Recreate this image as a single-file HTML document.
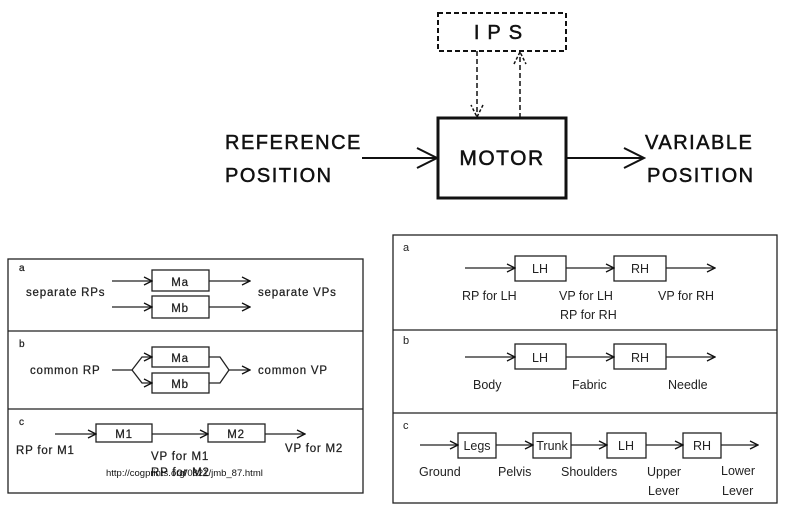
<!DOCTYPE html>
<html><head><meta charset="utf-8"><style>
body{margin:0;background:#fff;}
svg{display:block;font-family:"Liberation Sans",sans-serif;}
</style></head><body>
<svg width="788" height="516" viewBox="0 0 788 516" xmlns="http://www.w3.org/2000/svg">
<defs>
<marker id="a" markerWidth="10" markerHeight="10" refX="9" refY="5" orient="auto" markerUnits="userSpaceOnUse"><path d="M1,1 L9,5 L1,9" fill="none" stroke="#111" stroke-width="1.3"/></marker>
<marker id="b" markerWidth="24" markerHeight="24" refX="22" refY="12" orient="auto" markerUnits="userSpaceOnUse"><path d="M2,2 L22,12 L2,22" fill="none" stroke="#111" stroke-width="2"/></marker>
<marker id="c" markerWidth="16" markerHeight="16" refX="14" refY="8" orient="auto" markerUnits="userSpaceOnUse"><path d="M2,2 L14,8 L2,14" fill="none" stroke="#111" stroke-width="1.5" stroke-dasharray="3,2"/></marker>
</defs>
<g stroke="#111" fill="none">
<rect x="438" y="13" width="128" height="38" stroke-width="2" stroke-dasharray="5,3"/>
<rect x="438" y="118" width="128" height="80" stroke-width="3"/>
<line x1="477" y1="51" x2="477" y2="117" stroke-width="1.5" stroke-dasharray="5,3" marker-end="url(#c)"/>
<line x1="520" y1="118" x2="520" y2="52" stroke-width="1.5" stroke-dasharray="5,3" marker-end="url(#c)"/>
<line x1="362" y1="158" x2="437" y2="158" stroke-width="2" marker-end="url(#b)"/>
<line x1="567" y1="158" x2="644" y2="158" stroke-width="2" marker-end="url(#b)"/>
</g>
<g font-size="20" fill="#111" stroke="#111" stroke-width="0.5" letter-spacing="1.5">
<text x="502" y="39" text-anchor="middle" letter-spacing="8">IPS</text>
<text x="502" y="165" text-anchor="middle" font-size="21">MOTOR</text>
<text x="225" y="149">REFERENCE</text>
<text x="225" y="182">POSITION</text>
<text x="645" y="149">VARIABLE</text>
<text x="647" y="182">POSITION</text>
</g>

<!-- left panel -->
<g stroke="#222" fill="none" stroke-width="1.3">
<rect x="8" y="259" width="355" height="234"/>
<line x1="8" y1="331" x2="363" y2="331"/>
<line x1="8" y1="409" x2="363" y2="409"/>
<rect x="152" y="270" width="57" height="21"/>
<rect x="152" y="296" width="57" height="22"/>
<line x1="112" y1="281" x2="152" y2="281" marker-end="url(#a)"/>
<line x1="112" y1="307" x2="152" y2="307" marker-end="url(#a)"/>
<line x1="209" y1="281" x2="250" y2="281" marker-end="url(#a)"/>
<line x1="209" y1="307" x2="250" y2="307" marker-end="url(#a)"/>
<rect x="152" y="347" width="57" height="20"/>
<rect x="152" y="373" width="57" height="20"/>
<polyline points="112,370 132,370 142,357 152,357" marker-end="url(#a)"/>
<polyline points="132,370 142,383 152,383" marker-end="url(#a)"/>
<polyline points="209,357 220,357 229,370 250,370" marker-end="url(#a)"/>
<polyline points="209,383 220,383 229,370"/>
<rect x="96" y="424" width="56" height="18"/>
<rect x="208" y="424" width="57" height="18"/>
<line x1="55" y1="434" x2="96" y2="434" marker-end="url(#a)"/>
<line x1="152" y1="434" x2="208" y2="434" marker-end="url(#a)"/>
<line x1="265" y1="434" x2="305" y2="434" marker-end="url(#a)"/>
</g>
<g font-size="11.5" fill="#222" stroke="#222" stroke-width="0.25" letter-spacing="0.8">
<text x="19" y="271" font-size="10">a</text>
<text x="19" y="347" font-size="10">b</text>
<text x="19" y="425" font-size="10">c</text>
<text x="180" y="286" text-anchor="middle">Ma</text>
<text x="180" y="312" text-anchor="middle">Mb</text>
<text x="26" y="296">separate RPs</text>
<text x="258" y="296">separate VPs</text>
<text x="180" y="362" text-anchor="middle">Ma</text>
<text x="180" y="388" text-anchor="middle">Mb</text>
<text x="30" y="374">common RP</text>
<text x="258" y="374">common VP</text>
<text x="124" y="438" text-anchor="middle">M1</text>
<text x="236" y="438" text-anchor="middle">M2</text>
<text x="16" y="454">RP for M1</text>
<text x="151" y="460">VP for M1</text>
<text x="151" y="476">RP for M2</text>
<text x="285" y="452">VP for M2</text>
</g>
<text x="106" y="476" font-size="9.5" fill="#111">http://cogprints.org/0821/jmb_87.html</text>

<!-- right panel -->
<g stroke="#222" fill="none" stroke-width="1.3">
<rect x="393" y="235" width="384" height="268"/>
<line x1="393" y1="330" x2="777" y2="330"/>
<line x1="393" y1="413" x2="777" y2="413"/>
<rect x="515" y="256" width="51" height="25"/>
<rect x="614" y="256" width="52" height="25"/>
<line x1="465" y1="268" x2="515" y2="268" marker-end="url(#a)"/>
<line x1="566" y1="268" x2="614" y2="268" marker-end="url(#a)"/>
<line x1="666" y1="268" x2="715" y2="268" marker-end="url(#a)"/>
<rect x="515" y="344" width="51" height="25"/>
<rect x="614" y="344" width="52" height="25"/>
<line x1="465" y1="357" x2="515" y2="357" marker-end="url(#a)"/>
<line x1="566" y1="357" x2="614" y2="357" marker-end="url(#a)"/>
<line x1="666" y1="357" x2="715" y2="357" marker-end="url(#a)"/>
<rect x="458" y="433" width="38" height="25"/>
<rect x="533" y="433" width="38" height="25"/>
<rect x="607" y="433" width="39" height="25"/>
<rect x="683" y="433" width="38" height="25"/>
<line x1="420" y1="445" x2="458" y2="445" marker-end="url(#a)"/>
<line x1="496" y1="445" x2="533" y2="445" marker-end="url(#a)"/>
<line x1="571" y1="445" x2="607" y2="445" marker-end="url(#a)"/>
<line x1="646" y1="445" x2="683" y2="445" marker-end="url(#a)"/>
<line x1="721" y1="445" x2="758" y2="445" marker-end="url(#a)"/>
</g>
<g font-size="12.5" fill="#222">
<text x="403" y="251" font-size="11">a</text>
<text x="403" y="344" font-size="11">b</text>
<text x="403" y="429" font-size="11">c</text>
<text x="540" y="273" text-anchor="middle">LH</text>
<text x="640" y="273" text-anchor="middle">RH</text>
<text x="462" y="300">RP for LH</text>
<text x="559" y="300">VP for LH</text>
<text x="560" y="319">RP for RH</text>
<text x="658" y="300">VP for RH</text>
<text x="540" y="362" text-anchor="middle">LH</text>
<text x="640" y="362" text-anchor="middle">RH</text>
<text x="473" y="389">Body</text>
<text x="572" y="389">Fabric</text>
<text x="668" y="389">Needle</text>
<text x="477" y="450" text-anchor="middle">Legs</text>
<text x="552" y="450" text-anchor="middle">Trunk</text>
<text x="626" y="450" text-anchor="middle">LH</text>
<text x="702" y="450" text-anchor="middle">RH</text>
<text x="419" y="476">Ground</text>
<text x="498" y="476">Pelvis</text>
<text x="561" y="476">Shoulders</text>
<text x="647" y="476">Upper</text>
<text x="648" y="495">Lever</text>
<text x="721" y="475">Lower</text>
<text x="722" y="495">Lever</text>
</g>
</svg>
</body></html>
